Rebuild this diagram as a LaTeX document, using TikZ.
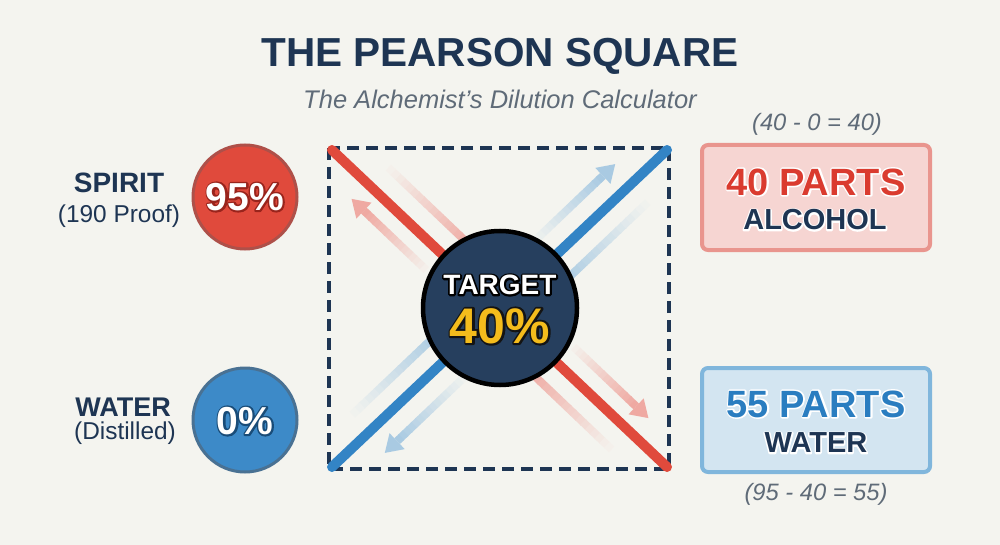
\documentclass[tikz,border=0pt]{standalone}
\usepackage{fontspec}
\setmainfont{Liberation Sans}
\usetikzlibrary{calc}
\definecolor{bgc}{HTML}{F4F4EF}
\definecolor{navyc}{HTML}{1E3553}
\definecolor{grayc}{HTML}{5F6B78}
\definecolor{redc}{HTML}{E04A3C}
\definecolor{bluec}{HTML}{3384C5}
\definecolor{darkred}{HTML}{9A241C}
\definecolor{darkblue}{HTML}{1B4E78}
\definecolor{fadered}{HTML}{EE9C94}
\definecolor{fadeblue}{HTML}{9CC3E0}
\definecolor{yellowc}{HTML}{F4BC1C}
\definecolor{centerc}{HTML}{263F5E}
\definecolor{boxred}{HTML}{F6D5D2}
\definecolor{boxredl}{HTML}{E9958E}
\definecolor{boxblue}{HTML}{D3E5F1}
\definecolor{boxbluel}{HTML}{80B6DC}
\definecolor{partred}{HTML}{DA3B2F}
\definecolor{partblue}{HTML}{2A7DC0}

\newcommand\fadeline[7]{%
  \foreach \fk in {0,...,15}{%
    \pgfmathsetmacro\fta{\fk/16}%
    \pgfmathsetmacro\ftb{min((\fk+1.15)/16,1)}%
    \pgfmathtruncatemacro\fpct{#6+(#7-#6)*\fk/15}%
    \draw[line width=8, color=#5!\fpct!bgc] ({#1+(#3-#1)*\fta},{#2+(#4-#2)*\fta}) -- ({#1+(#3-#1)*\ftb},{#2+(#4-#2)*\ftb});
  }}
\newcommand\fadearrow[6]{%
  \pgfmathsetmacro\flen{veclen(#3-#1,#4-#2)}%
  \pgfmathsetmacro\fbx{#3-(#3-#1)*17/\flen}%
  \pgfmathsetmacro\fby{#4-(#4-#2)*17/\flen}%
  \pgfmathsetmacro\fpx{-(#4-#2)*11/\flen}%
  \pgfmathsetmacro\fpy{(#3-#1)*11/\flen}%
  \fadeline{#1}{#2}{\fbx}{\fby}{#5}{6}{#6}%
  \fill[#5!#6!bgc] ({\fbx+\fpx},{\fby+\fpy}) -- (#3,#4) -- ({\fbx-\fpx},{\fby-\fpy}) -- cycle;
}
% outlined text: a stroke-only layer under a plain fill layer
% #1 name, #2 pos, #3 font, #4 fill colour, #5 stroke rgb (0-1), #6 stroke width, #7 text
\newcommand\otext[7]{%
  \node[font=#3,text=#4,inner sep=0pt] at (#2) {\special{pdf:literal direct 1 Tr #6 w 1 j #5 RG}#7\special{pdf:literal direct 0 Tr}};
  \node[font=#3,text=#4,inner sep=0pt] (#1) at (#2) {#7};
}
\tikzset{
  mainline/.style={line width=10, line cap=round},
  lab/.style={inner sep=0pt},
  pbox/.style={rounded corners=6, line width=4},
}
\begin{document}
\begin{tikzpicture}[x=1pt,y=-1pt]
\path[fill=bgc] (0,0) rectangle (1000,545);
\useasboundingbox (0,0) rectangle (1000,545);

% title
\node[lab, font=\fontsize{40.5}{40}\selectfont\bfseries, text=navyc] (title) at (500,56) {THE PEARSON SQUARE};
\node[lab, font=\fontsize{25.5}{26}\selectfont\itshape, text=grayc] (sub) at (500,99) {The Alchemist’s Dilution Calculator};

% square
\coordinate (tl) at (329,148);
\coordinate (tr) at (669,148);
\coordinate (bl) at (329,469);
\coordinate (br) at (669,469);
\draw[navyc, line width=3.5, dash pattern=on 12pt off 7pt] (tl) rectangle (br);

% faded arrows and bands
\fadearrow{426.2}{270.0}{351.6}{198.9}{fadered}{85}
\fadeline{465.1}{240.7}{388.4}{167.6}{fadered}{75}{4}
\fadearrow{573.8}{347.0}{648.4}{418.1}{fadered}{85}
\fadeline{534.9}{376.3}{611.6}{449.4}{fadered}{75}{4}
\fadearrow{534.9}{240.7}{615.2}{164.1}{fadeblue}{85}
\fadeline{569.4}{276.9}{647.6}{202.4}{fadeblue}{75}{4}
\fadearrow{465.2}{376.3}{384.8}{452.9}{fadeblue}{85}
\fadeline{430.7}{340.1}{352.5}{414.6}{fadeblue}{75}{4}

% main diagonals
\coordinate (r1) at (332,150);
\coordinate (r2) at (667,467);
\coordinate (b1) at (332,467);
\coordinate (b2) at (667,150);
\draw[mainline, redc] (r1) -- (r2);
\draw[mainline, bluec] (b1) -- (b2);

% center
\node[circle, minimum size=154, fill=centerc, draw=black, line width=4.5] (tgt) at (500,308) {};
\otext{tgtt}{500,285}{\fontsize{28}{28}\selectfont\bfseries}{white}{0 0 0}{3.6}{TARGET}
\otext{tgtp}{500,326}{\fontsize{50}{50}\selectfont\bfseries}{yellowc}{0.08 0.08 0.08}{4}{40\%}

% left
\node[circle, minimum size=104, fill=redc, draw=darkred!80, line width=3] (spc) at (245,197) {};
\otext{spp}{245,197}{\fontsize{39}{39}\selectfont\bfseries}{white}{0.6 0.14 0.11}{3.6}{95\%}
\node[circle, minimum size=104, fill=bluec!95!white, draw=darkblue!80, line width=3] (wac) at (245,420) {};
\otext{wap}{245,421}{\fontsize{39}{39}\selectfont\bfseries}{white}{0.1 0.3 0.47}{3.6}{0\%}
\node[lab, font=\fontsize{28}{28}\selectfont\bfseries, text=navyc] (spl) at (119,183) {SPIRIT};
\node[lab, font=\fontsize{24.4}{24}\selectfont, text=navyc] (sps) at (119,216) {(190 Proof)};
\node[lab, font=\fontsize{27}{27}\selectfont\bfseries, text=navyc] (wal) at (123,407) {WATER};
\node[lab, font=\fontsize{24.4}{24}\selectfont, text=navyc] (was) at (125,433) {(Distilled)};

% right boxes
\draw[pbox, fill=boxred, draw=boxredl] (702,145) rectangle (930,250);
\draw[pbox, fill=boxblue, draw=boxbluel] (702,368) rectangle (930,472);
\otext{alp}{816,182}{\fontsize{38}{38}\selectfont\bfseries}{partred}{1 1 1}{3}{40 PARTS}
\otext{alc}{815,220}{\fontsize{29}{29}\selectfont\bfseries}{navyc}{1 1 1}{3}{ALCOHOL}
\otext{wtp}{816,404}{\fontsize{38}{38}\selectfont\bfseries}{partblue}{1 1 1}{3}{55 PARTS}
\otext{wtw}{816,443}{\fontsize{29}{29}\selectfont\bfseries}{navyc}{1 1 1}{3}{WATER}
\node[lab, font=\fontsize{23.7}{24}\selectfont\itshape, text=grayc] (eq1) at (817,124) {(40 - 0 = 40)};
\node[lab, font=\fontsize{23.7}{24}\selectfont\itshape, text=grayc] (eq2) at (816,494) {(95 - 40 = 55)};
\end{tikzpicture}
\end{document}
